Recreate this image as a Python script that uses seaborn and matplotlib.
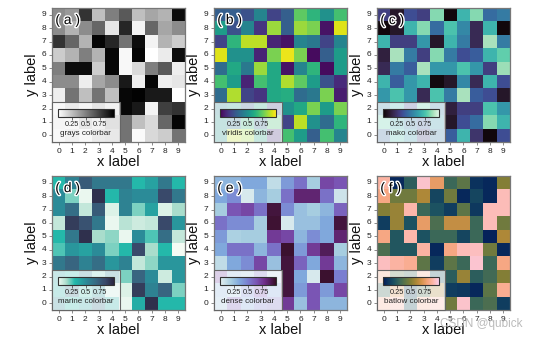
import numpy as np
import pandas as pd
import matplotlib
matplotlib.use("Agg")
import matplotlib.pyplot as plt
import seaborn as sns
from matplotlib.colors import LinearSegmentedColormap, Normalize
from matplotlib.cm import ScalarMappable
from matplotlib.patches import Rectangle
import matplotlib.patheffects as pe

sns.set_theme(style="white")
plt.rcParams["font.family"] = ["Liberation Sans", "DejaVu Sans"]

# grid labels (rows listed from the top row, y = 9, down to y = 0)
x_ticks = list(range(10))
y_ticks = list(range(9, -1, -1))
cbar_ticks = [0.25, 0.5, 0.75]

grays_vals = [
    [0.45, 0.40, 0.80, 0.25, 0.50, 0.65, 0.25, 0.35, 0.30, 0.95],
    [0.45, 0.30, 0.45, 0.60, 0.10, 0.85, 0.05, 0.60, 0.35, 0.45],
    [0.80, 0.60, 0.30, 0.98, 0.85, 0.55, 0.95, 0.05, 0.30, 0.20],
    [0.20, 0.30, 0.50, 0.30, 0.97, 0.03, 0.98, 0.00, 0.08, 0.95],
    [0.50, 0.95, 0.95, 0.20, 0.97, 0.03, 0.15, 0.50, 0.65, 0.07],
    [0.45, 0.45, 0.07, 0.35, 0.45, 0.90, 0.07, 0.98, 0.07, 0.10],
    [0.07, 0.55, 0.25, 0.55, 0.25, 0.97, 0.99, 0.90, 0.90, 0.00],
    [0.10, 0.30, 0.15, 0.40, 0.20, 0.97, 0.90, 0.05, 0.75, 0.80],
    [0.15, 0.10, 0.35, 0.20, 0.45, 0.55, 0.25, 0.15, 0.60, 0.98],
    [0.10, 0.20, 0.10, 0.30, 0.35, 0.55, 0.02, 0.15, 0.20, 0.55],
]

viridis_vals = [
    [0.30, 0.30, 0.25, 0.45, 0.20, 0.30, 0.75, 0.65, 0.50, 0.70],
    [0.55, 0.25, 0.45, 0.15, 0.85, 0.30, 0.85, 0.80, 0.05, 0.95],
    [0.20, 0.65, 0.90, 0.90, 0.10, 0.05, 0.45, 0.40, 0.20, 0.45],
    [0.95, 0.50, 0.50, 0.10, 0.80, 0.97, 0.80, 0.03, 0.30, 0.55],
    [0.35, 0.60, 0.40, 0.85, 0.60, 0.05, 0.45, 0.65, 0.03, 0.55],
    [0.70, 0.55, 0.10, 0.70, 0.60, 0.88, 0.75, 0.55, 0.25, 0.12],
    [0.35, 0.88, 0.20, 0.15, 0.60, 0.62, 0.35, 0.40, 0.80, 0.08],
    [0.45, 0.55, 0.30, 0.60, 0.20, 0.50, 0.60, 0.80, 0.55, 0.80],
    [0.50, 0.40, 0.65, 0.35, 0.70, 0.20, 0.90, 0.50, 0.35, 0.65],
    [0.50, 0.90, 0.85, 0.60, 0.15, 0.70, 0.55, 0.30, 0.70, 0.45],
]

mako_vals = [
    [0.30, 0.10, 0.35, 0.30, 0.85, 0.02, 0.70, 0.85, 0.45, 0.50],
    [0.02, 0.10, 0.70, 0.85, 0.45, 0.75, 0.55, 0.20, 0.70, 0.02],
    [0.70, 0.30, 0.30, 0.60, 0.10, 0.70, 0.50, 0.20, 0.90, 0.50],
    [0.15, 0.90, 0.50, 0.30, 0.85, 0.50, 0.35, 0.40, 0.70, 0.80],
    [0.20, 0.50, 0.40, 0.90, 0.60, 0.60, 0.75, 0.60, 0.30, 0.88],
    [0.70, 0.40, 0.60, 0.70, 0.03, 0.10, 0.55, 0.20, 0.70, 0.35],
    [0.60, 0.75, 0.60, 0.20, 0.75, 0.50, 0.90, 0.40, 0.35, 0.10],
    [0.55, 0.70, 0.35, 0.80, 0.50, 0.15, 0.30, 0.30, 0.75, 0.60],
    [0.80, 0.65, 0.50, 0.40, 0.60, 0.10, 0.35, 0.45, 0.85, 0.70],
    [0.45, 0.75, 0.60, 0.30, 0.50, 0.40, 0.70, 0.25, 0.02, 0.35],
]

marine_vals = [
    [0.30, 0.55, 0.75, 0.60, 0.60, 0.60, 0.30, 0.40, 0.60, 0.30],
    [0.50, 0.20, 0.02, 0.95, 0.30, 0.55, 0.50, 0.50, 0.85, 0.60],
    [0.50, 0.65, 0.10, 0.75, 0.05, 0.55, 0.20, 0.40, 0.05, 0.15],
    [0.10, 0.90, 0.80, 0.60, 0.02, 0.12, 0.08, 0.10, 0.85, 0.45],
    [0.30, 0.60, 0.95, 0.15, 0.18, 0.02, 0.50, 0.25, 0.65, 0.10],
    [0.25, 0.45, 0.40, 0.50, 0.20, 0.30, 0.85, 0.15, 0.30, 0.00],
    [0.60, 0.70, 0.55, 0.65, 0.45, 0.55, 0.10, 0.18, 0.45, 0.45],
    [0.40, 0.30, 0.55, 0.20, 0.50, 0.20, 0.70, 0.50, 0.08, 0.45],
    [0.35, 0.60, 0.25, 0.45, 0.10, 0.05, 0.90, 0.55, 0.70, 0.20],
    [0.50, 0.30, 0.40, 0.60, 0.35, 0.02, 0.35, 0.95, 0.30, 0.30],
]

dense_vals = [
    [0.30, 0.30, 0.35, 0.35, 0.12, 0.40, 0.55, 0.20, 0.70, 0.65],
    [0.35, 0.45, 0.05, 0.30, 0.20, 0.55, 0.85, 0.85, 0.55, 0.08],
    [0.20, 0.65, 0.70, 0.55, 0.95, 0.45, 0.25, 0.20, 0.30, 0.60],
    [0.55, 0.45, 0.45, 0.20, 0.97, 0.05, 0.25, 0.25, 0.35, 0.95],
    [0.40, 0.18, 0.20, 0.20, 0.75, 0.70, 0.30, 0.45, 0.35, 0.85],
    [0.35, 0.55, 0.55, 0.30, 0.55, 0.98, 0.40, 0.75, 0.90, 0.20],
    [0.12, 0.35, 0.45, 0.70, 0.25, 0.95, 0.60, 0.35, 0.75, 0.30],
    [0.70, 0.30, 0.25, 0.55, 0.15, 0.95, 0.35, 0.05, 0.98, 0.50],
    [0.30, 0.20, 0.45, 0.65, 0.35, 0.95, 0.40, 0.65, 0.40, 0.70],
    [0.25, 0.60, 0.35, 0.50, 0.55, 0.75, 0.25, 0.65, 0.30, 0.30],
]

batlow_vals = [
    [0.88, 0.05, 0.25, 0.95, 0.75, 0.30, 0.40, 0.08, 0.05, 0.50],
    [0.82, 0.45, 0.45, 0.60, 0.15, 0.45, 0.05, 0.15, 0.05, 0.92],
    [0.50, 0.55, 0.90, 0.30, 0.20, 0.12, 0.40, 0.10, 0.92, 0.92],
    [0.12, 0.55, 0.20, 0.75, 0.35, 0.65, 0.65, 0.30, 0.92, 0.45],
    [0.82, 0.22, 0.90, 0.20, 0.30, 0.30, 0.15, 0.30, 0.03, 0.60],
    [0.35, 0.22, 0.22, 0.88, 0.05, 0.82, 0.92, 0.93, 0.45, 0.05],
    [0.93, 0.88, 0.85, 0.40, 0.12, 0.40, 0.30, 0.96, 0.30, 0.82],
    [0.80, 0.40, 0.30, 0.85, 0.20, 0.25, 0.55, 0.25, 0.32, 0.50],
    [0.30, 0.70, 0.15, 0.35, 0.60, 0.12, 0.10, 0.05, 0.40, 0.85],
    [0.85, 0.88, 0.20, 0.85, 0.90, 0.45, 0.95, 0.30, 0.35, 0.12],
]

# colormaps
cmap_grays = LinearSegmentedColormap.from_list("grays", ["#ffffff", "#000000"])
cmap_viridis = plt.get_cmap("viridis")
cmap_mako = sns.color_palette("mako", as_cmap=True)
cmap_marine = LinearSegmentedColormap.from_list("marine", [
    (0.0, "#f4fbf4"), (0.15, "#a9ddcc"), (0.3, "#22b8aa"), (0.5, "#2b8b98"),
    (0.7, "#386580"), (0.85, "#39496a"), (1.0, "#2a2540")])
cmap_dense = LinearSegmentedColormap.from_list("dense", [
    (0.0, "#e6f1f1"), (0.2, "#a6cde0"), (0.35, "#80a8dc"), (0.5, "#7a7fd0"),
    (0.65, "#7a55b4"), (0.8, "#6e2d88"), (0.9, "#521d5a"), (1.0, "#360e24")])
cmap_batlow = LinearSegmentedColormap.from_list("batlow", [
    (0.0, "#011959"), (0.1, "#0e395e"), (0.2, "#1c5261"), (0.3, "#3c6858"),
    (0.4, "#5d7547"), (0.5, "#827e36"), (0.6, "#ae8838"), (0.7, "#d8944f"),
    (0.8, "#f4a37a"), (0.9, "#fdb7aa"), (1.0, "#facde9")])

panels = [
    ("a", grays_vals, cmap_grays, "grays colorbar"),
    ("b", viridis_vals, cmap_viridis, "viridis colorbar"),
    ("c", mako_vals, cmap_mako, "mako colorbar"),
    ("d", marine_vals, cmap_marine, "marine colorbar"),
    ("e", dense_vals, cmap_dense, "dense colorbar"),
    ("f", batlow_vals, cmap_batlow, "batlow colorbar"),
]

W, H = 539, 339
fig = plt.figure(figsize=(W / 100, H / 100), dpi=100)
lefts = [52, 214, 377]
tops = [8, 176]
aw, ah = 133, 134
edge = "#777777"

for i, (letter, vals, cmap, name) in enumerate(panels):
    r, c = divmod(i, 3)
    ax = fig.add_axes([lefts[c] / W, 1 - (tops[r] + ah) / H, aw / W, ah / H])
    df = pd.DataFrame(vals, index=y_ticks, columns=x_ticks)
    sns.heatmap(df, ax=ax, cmap=cmap, vmin=0, vmax=1, cbar=False,
                xticklabels=True, yticklabels=True)
    for s in ax.spines.values():
        s.set_visible(True)
        s.set_color(edge)
        s.set_linewidth(0.9)
    ax.tick_params(length=2.5, width=0.6, color=edge, labelsize=6, pad=1.5,
                   bottom=True, left=True, labelcolor="#222222")
    ax.tick_params(axis="y", labelrotation=0)
    ax.tick_params(axis="x", labelrotation=0)
    ax.set_xlabel("x label", fontsize=10.5, labelpad=0, color="#111111")
    ax.set_ylabel("y label", fontsize=10.5, labelpad=2, color="#111111")

    ax.text(0.025, 0.91, f"( {letter} )", transform=ax.transAxes, ha="left",
            va="center", fontsize=10, color="black", zorder=8,
            path_effects=[pe.withStroke(linewidth=2, foreground="white")])

    # translucent box holding the inset colorbar
    ax.add_patch(Rectangle((0, 0), 0.51, 0.30, transform=ax.transAxes,
                           facecolor=(1, 1, 1, 0.75), edgecolor="#666666",
                           linewidth=0.8, zorder=4, clip_on=False))
    cax = ax.inset_axes([0.045, 0.19, 0.42, 0.06])
    cax.set_zorder(6)
    cb = fig.colorbar(ScalarMappable(norm=Normalize(0, 1), cmap=cmap), cax=cax,
                      orientation="horizontal", ticks=cbar_ticks)
    cb.set_ticklabels(["0.25", "0.5", "0.75"])
    cb.ax.tick_params(labelsize=5.3, length=2, width=0.5, pad=1,
                      color="#333333", labelcolor="#222222")
    cb.outline.set_linewidth(0.8)
    cb.outline.set_edgecolor("#333333")
    cb.set_label(name, fontsize=5.8, labelpad=2, color="#222222")

fig.text(523 / W, 1 - 324 / H, "CSDN @qubick", ha="right", va="center",
         fontsize=8.5, color="#bbbbbb")

fig.savefig("out.png", dpi=100)
